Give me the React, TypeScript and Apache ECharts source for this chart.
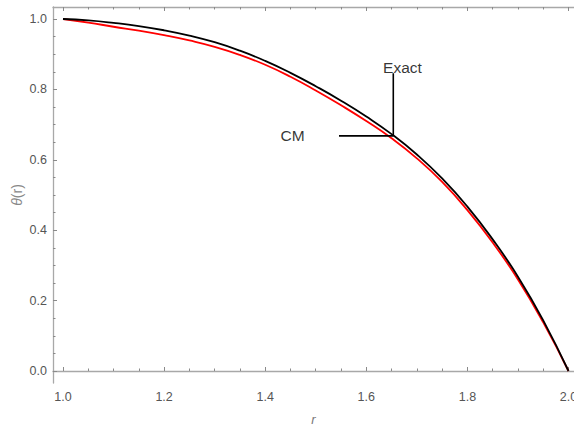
import React, { useEffect, useRef } from "react";
import * as echarts from "echarts";

// r values
const rValues = [1.0, 1.05, 1.1, 1.15, 1.2, 1.25, 1.3, 1.35, 1.4, 1.45, 1.5, 1.55, 1.6, 1.65, 1.7, 1.75, 1.8, 1.85, 1.9, 1.95, 2.0];
// Exact solution (black)
const exactValues = [1.0, 0.996, 0.989, 0.98, 0.968, 0.953, 0.934, 0.91, 0.881, 0.847, 0.809, 0.768, 0.723, 0.673, 0.615, 0.547, 0.467, 0.374, 0.268, 0.144, 0.0];
// CM approximation (red)
const cmValues = [1.0, 0.99, 0.978, 0.967, 0.954, 0.939, 0.921, 0.898, 0.87, 0.836, 0.797, 0.755, 0.71, 0.661, 0.604, 0.537, 0.457, 0.365, 0.26, 0.138, 0.0];

// tick labels
const xMajorTicks = [1.0, 1.2, 1.4, 1.6, 1.8, 2.0];
const xMinorTicks = [1.05, 1.1, 1.15, 1.25, 1.3, 1.35, 1.45, 1.5, 1.55, 1.65, 1.7, 1.75, 1.85, 1.9, 1.95];
const yMajorTicks = [0.0, 0.2, 0.4, 0.6, 0.8, 1.0];
const yMinorTicks = [0.05, 0.1, 0.15, 0.25, 0.3, 0.35, 0.45, 0.5, 0.55, 0.65, 0.7, 0.75, 0.85, 0.9, 0.95];

// annotation (callout) points in data coordinates
const calloutLine = [[1.546, 0.668], [1.6534, 0.668], [1.6534, 0.846]];
const calloutTexts = [
  { name: "Exact", value: [1.6716, 0.862] },
  { name: "CM", value: [1.454, 0.67] },
];

const X_MIN = 0.98022;
const X_MAX = 2.01088;
const Y_MIN = -0.03409;
const Y_MAX = 1.03409;

const AXIS_COLOR = "#a8a8a8";
const TICK_COLOR = "#8a8a8a";
const LABEL_COLOR = "#555555";
const FONT = "'Liberation Sans', Arial, sans-serif";

function baseX(extra: any) {
  return {
    type: "value",
    min: X_MIN,
    max: X_MAX,
    splitLine: { show: false },
    ...extra,
  };
}
function baseY(extra: any) {
  return {
    type: "value",
    min: Y_MIN,
    max: Y_MAX,
    splitLine: { show: false },
    ...extra,
  };
}

export default function App() {
  const ref = useRef<HTMLDivElement>(null);
  useEffect(() => {
    if (!ref.current) return;
    const chart = echarts.init(ref.current, undefined, { renderer: "svg" });
    const fmt = (v: number) => v.toFixed(1);
    chart.setOption({
      animation: false,
      backgroundColor: "#ffffff",
      grid: { left: 53, top: 7, width: 521, height: 376, containLabel: false, outerBoundsMode: "none" },
      xAxis: [
        baseX({
          position: "bottom",
          name: "r",
          nameLocation: "middle",
          nameGap: 30,
          nameMoveOverlap: false,
          nameTextStyle: { color: "#777", fontSize: 13, fontStyle: "italic", fontFamily: FONT },
          axisLine: { show: true, lineStyle: { color: AXIS_COLOR, width: 1.3 } },
          axisTick: { show: true, inside: true, length: 4, customValues: xMajorTicks, lineStyle: { color: TICK_COLOR, width: 1 } },
          axisLabel: { show: true, customValues: xMajorTicks, formatter: fmt, margin: 7, color: LABEL_COLOR, fontSize: 12.5, fontFamily: FONT },
        }),
        baseX({
          position: "bottom",
          axisLine: { show: false },
          axisTick: { show: true, inside: true, length: 2.5, customValues: xMinorTicks, lineStyle: { color: TICK_COLOR, width: 1 } },
          axisLabel: { show: false },
        }),
        baseX({
          position: "top",
          axisLine: { show: true, lineStyle: { color: AXIS_COLOR, width: 1.3 } },
          axisTick: { show: true, inside: true, length: 4, customValues: xMajorTicks, lineStyle: { color: TICK_COLOR, width: 1 } },
          axisLabel: { show: false },
        }),
        baseX({
          position: "top",
          axisLine: { show: false },
          axisTick: { show: true, inside: true, length: 2.5, customValues: xMinorTicks, lineStyle: { color: TICK_COLOR, width: 1 } },
          axisLabel: { show: false },
        }),
      ],
      yAxis: [
        baseY({
          position: "left",
          name: "{i|θ}(r)",
          nameLocation: "middle",
          nameGap: 29,
          nameMoveOverlap: false,
          nameTextStyle: {
            color: "#888",
            fontSize: 14,
            fontFamily: FONT,
            rich: { i: { fontStyle: "italic", color: "#888", fontSize: 14, fontFamily: FONT } },
          },
          axisLine: { show: true, lineStyle: { color: AXIS_COLOR, width: 1.3 } },
          axisTick: { show: true, inside: true, length: 4, customValues: yMajorTicks, lineStyle: { color: TICK_COLOR, width: 1 } },
          axisLabel: { show: true, customValues: yMajorTicks, formatter: fmt, margin: 6, color: LABEL_COLOR, fontSize: 12.5, fontFamily: FONT },
        }),
        baseY({
          position: "left",
          axisLine: { show: false },
          axisTick: { show: true, inside: true, length: 2.5, customValues: yMinorTicks, lineStyle: { color: TICK_COLOR, width: 1 } },
          axisLabel: { show: false },
        }),
      ],
      series: [
        {
          name: "CM",
          type: "line",
          xAxisIndex: 0,
          yAxisIndex: 0,
          data: rValues.map((r, i) => [r, cmValues[i]]),
          smooth: 0.5,
          showSymbol: false,
          symbol: "none",
          lineStyle: { color: "#ff0000", width: 1.8 },
          z: 3,
        },
        {
          name: "Exact",
          type: "line",
          xAxisIndex: 0,
          yAxisIndex: 0,
          data: rValues.map((r, i) => [r, exactValues[i]]),
          smooth: 0.5,
          showSymbol: false,
          symbol: "none",
          lineStyle: { color: "#000000", width: 1.8 },
          z: 4,
        },
        {
          name: "callout",
          type: "line",
          xAxisIndex: 0,
          yAxisIndex: 0,
          data: calloutLine,
          showSymbol: false,
          symbol: "none",
          lineStyle: { color: "#000000", width: 1.6 },
          z: 5,
        },
        {
          name: "calloutText",
          type: "scatter",
          xAxisIndex: 0,
          yAxisIndex: 0,
          symbolSize: 0,
          data: calloutTexts,
          label: {
            show: true,
            position: "inside",
            formatter: (p: any) => p.name,
            color: "#000",
            fontSize: 15.5,
            fontFamily: FONT,
          },
          z: 6,
        },
      ],
    });
    return () => chart.dispose();
  }, []);
  return (
    <div
      ref={ref}
      style={{ position: "fixed", left: 0, top: 0, width: 574, height: 429, background: "#fff" }}
    />
  );
}
